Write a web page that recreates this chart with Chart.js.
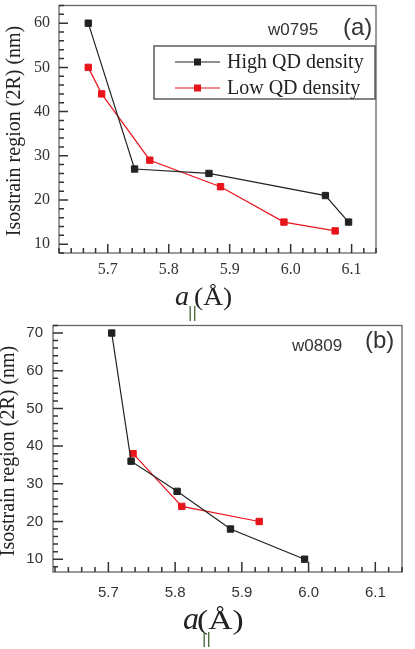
<!DOCTYPE html>
<html>
<head>
<meta charset="utf-8">
<script src="https://cdn.jsdelivr.net/npm/chart.js@4.4.1/dist/chart.umd.min.js"></script>
<style>
    body { margin: 0; background: #fff; }
    .wrap { position: relative; width: 415px; height: 649px; overflow: hidden; }
    canvas { position: absolute; left: 0; }
    #chartA { top: 0; }
    #chartB { top: 320px; }
</style>
</head>
<body>
<div class="wrap">
    <canvas id="chartA" width="415" height="330"></canvas>
    <canvas id="chartB" width="415" height="329"></canvas>
</div>
<script>
// panel (a) - w0795
const xTicksA = [5.7, 5.8, 5.9, 6.0, 6.1];
const yTicksA = [10, 20, 30, 40, 50, 60];
const highXA = [5.668, 5.744, 5.866, 6.057, 6.095];
const highYA = [60, 27, 26, 21, 15];
const lowXA = [5.668, 5.690, 5.769, 5.885, 5.989, 6.073];
const lowYA = [50, 44, 29, 23, 15, 13];

// panel (b) - w0809
const xTicksB = [5.7, 5.8, 5.9, 6.0, 6.1];
const yTicksB = [10, 20, 30, 40, 50, 60, 70];
const highXB = [5.705, 5.734, 5.803, 5.883, 5.994];
const highYB = [70, 36, 28, 18, 10];
const lowXB = [5.737, 5.810, 5.926];
const lowYB = [38, 24, 20];

const seriesNames = ['High QD density', 'Low QD density'];
const BLACK = '#222';
const RED = '#e8141c';

function toPoints(xs, ys) {
    return xs.map((x, i) => ({ x: x, y: ys[i] }));
}

function lineSet(label, xs, ys, color) {
    return {
        label: label,
        data: toPoints(xs, ys),
        borderColor: color,
        backgroundColor: color,
        borderWidth: 1.2,
        pointStyle: 'rect',
        pointRadius: 4.5,
        pointBorderWidth: 1,
        pointBackgroundColor: color,
        pointBorderColor: color,
        tension: 0
    };
}

// frame, inward ticks, titles, legend and labels
function makeDecor(o) {
    return {
        id: 'decor',
        afterDraw(chart) {
            const ctx = chart.ctx;
            const a = chart.chartArea;
            const xs = chart.scales.x, ys = chart.scales.y;
            ctx.save();

            ctx.strokeStyle = '#666';
            ctx.lineWidth = 1.3;
            ctx.strokeRect(a.left, a.top, a.right - a.left, a.bottom - a.top);

            // inward ticks, minor every 0.02 and every 2 units
            ctx.strokeStyle = '#333';
            ctx.lineWidth = 1.5;
            ctx.beginPath();
            for (let k = 281; k <= 307; k++) {
                const val = k / 50;
                if (val < o.xMin || val > o.xMax) continue;
                const len = k % 5 === 0 ? o.majorLen : o.minorLen;
                const px = xs.getPixelForValue(val);
                ctx.moveTo(px, a.bottom);
                ctx.lineTo(px, a.bottom - len);
            }
            for (let v = 8; v <= 72; v += 2) {
                if (v < o.yMin || v > o.yMax) continue;
                const len = v % 10 === 0 ? o.majorLen : o.minorLen;
                const py = ys.getPixelForValue(v);
                ctx.moveTo(a.left, py);
                ctx.lineTo(a.left + len, py);
            }
            ctx.stroke();

            // y title
            ctx.fillStyle = '#222';
            ctx.save();
            ctx.translate(o.yTitle.x, o.yTitle.y);
            ctx.rotate(-Math.PI / 2);
            ctx.font = o.yTitle.size + 'px "Liberation Serif"';
            ctx.textAlign = 'center';
            ctx.textBaseline = 'middle';
            ctx.fillText('Isostrain region (2R) (nm)', 0, 0);
            ctx.restore();

            // x title: a|| (Å)
            const t = o.xTitle;
            ctx.textAlign = 'left';
            ctx.textBaseline = 'alphabetic';
            ctx.font = 'italic ' + t.aSize + 'px "Liberation Serif"';
            ctx.fillText('a', t.x, t.y);
            ctx.save();
            ctx.translate(t.ux, t.y);
            ctx.scale(t.stretch, 1);
            ctx.font = t.uSize + 'px "Liberation Serif"';
            ctx.fillText('(Å)', 0, 0);
            ctx.restore();
            ctx.fillStyle = '#4f6b3c';
            ctx.font = t.barSize + 'px "Liberation Sans"';
            ctx.textBaseline = 'top';
            ctx.fillText('||', t.barX, t.barY);

            // sample name and panel letter
            ctx.fillStyle = '#333';
            ctx.textBaseline = 'middle';
            ctx.font = '17px "Liberation Sans"';
            ctx.fillText(o.sample.text, o.sample.x, o.sample.y);
            ctx.font = '24px "Liberation Sans"';
            ctx.fillText(o.panel.text, o.panel.x, o.panel.y);

            // legend
            if (o.legend) {
                const L = o.legend;
                ctx.strokeStyle = '#444';
                ctx.lineWidth = 1.3;
                ctx.strokeRect(L.x, L.y, L.w, L.h);
                chart.data.datasets.forEach((ds, i) => {
                    const ry = L.rows[i];
                    ctx.strokeStyle = ds.borderColor;
                    ctx.lineWidth = 1.2;
                    ctx.beginPath();
                    ctx.moveTo(L.lineX0, ry);
                    ctx.lineTo(L.lineX1, ry);
                    ctx.stroke();
                    ctx.fillStyle = ds.borderColor;
                    ctx.fillRect((L.lineX0 + L.lineX1) / 2 - 3.5, ry - 3.5, 7, 7);
                    ctx.fillStyle = '#222';
                    ctx.font = L.size + 'px "Liberation Serif"';
                    ctx.textBaseline = 'middle';
                    ctx.fillText(ds.label, L.textX, ry + 1);
                });
            }
            ctx.restore();
        }
    };
}

function makeChart(id, cfg) {
    const ctx = document.getElementById(id).getContext('2d');
    cfg.decor.xMin = cfg.xMin;
    cfg.decor.xMax = cfg.xMax;
    cfg.decor.yMin = cfg.yMin;
    cfg.decor.yMax = cfg.yMax;
    return new Chart(ctx, {
        type: 'line',
        data: {
            datasets: [
                lineSet(seriesNames[0], cfg.highX, cfg.highY, BLACK),
                lineSet(seriesNames[1], cfg.lowX, cfg.lowY, RED)
            ]
        },
        options: {
            responsive: false,
            animation: false,
            devicePixelRatio: 1,
            layout: { padding: { left: 0, top: cfg.area.top, right: 415 - cfg.area.right, bottom: 0 } },
            plugins: {
                legend: { display: false },
                tooltip: { enabled: false }
            },
            scales: {
                x: {
                    type: 'linear',
                    min: cfg.xMin,
                    max: cfg.xMax,
                    grid: { display: false, drawTicks: false },
                    border: { display: false },
                    afterBuildTicks: s => { s.ticks = cfg.xTicks.map(v => ({ value: v })); },
                    afterFit: s => {
                        s.height = cfg.height - cfg.area.bottom;
                        s.paddingLeft = 0;
                        s.paddingRight = 0;
                    },
                    ticks: {
                        padding: cfg.xPad,
                        color: '#333',
                        font: cfg.tickFont,
                        maxRotation: 0,
                        callback: v => v.toFixed(1)
                    }
                },
                y: {
                    type: 'linear',
                    min: cfg.yMin,
                    max: cfg.yMax,
                    grid: { display: false, drawTicks: false },
                    border: { display: false },
                    afterBuildTicks: s => { s.ticks = cfg.yTicks.map(v => ({ value: v })); },
                    afterFit: s => {
                        s.width = cfg.area.left;
                        s.paddingTop = 0;
                        s.paddingBottom = 0;
                    },
                    ticks: {
                        padding: cfg.yPad,
                        color: '#333',
                        font: cfg.tickFont
                    }
                }
            }
        },
        plugins: [makeDecor(cfg.decor)]
    });
}

makeChart('chartA', {
    height: 330,
    area: { left: 59, right: 376, top: 5, bottom: 253 },
    xMin: 5.62, xMax: 6.14, yMin: 8, yMax: 64,
    xTicks: xTicksA, yTicks: yTicksA,
    highX: highXA, highY: highYA, lowX: lowXA, lowY: lowYA,
    tickFont: { family: '"Liberation Serif"', size: 16 },
    xPad: 7, yPad: 9,
    decor: {
        majorLen: 9, minorLen: 5,
        yTitle: { x: 15, y: 131, size: 20 },
        xTitle: { x: 175, y: 305, ux: 194, stretch: 1.1, aSize: 28, uSize: 25, barX: 188, barY: 305, barSize: 17 },
        sample: { text: 'w0795', x: 268, y: 30 },
        panel: { text: '(a)', x: 343, y: 28 },
        legend: { x: 154, y: 46, w: 221, h: 53, rows: [62, 88], lineX0: 175, lineX1: 220, textX: 227, size: 20 }
    }
});

makeChart('chartB', {
    height: 329,
    area: { left: 53, right: 402, top: 4, bottom: 252 },
    xMin: 5.617, xMax: 6.14, yMin: 6.6, yMax: 72,
    xTicks: xTicksB, yTicks: yTicksB,
    highX: highXB, highY: highYB, lowX: lowXB, lowY: lowYB,
    tickFont: { family: '"Liberation Sans"', size: 15 },
    xPad: 12, yPad: 10,
    decor: {
        majorLen: 10, minorLen: 5,
        yTitle: { x: 9, y: 131, size: 20 },
        xTitle: { x: 183, y: 309, ux: 197, stretch: 1.2, aSize: 32, uSize: 28, barX: 202, barY: 311, barSize: 17 },
        sample: { text: 'w0809', x: 292, y: 26 },
        panel: { text: '(b)', x: 365, y: 21 },
        legend: null
    }
});
</script>
</body>
</html>
